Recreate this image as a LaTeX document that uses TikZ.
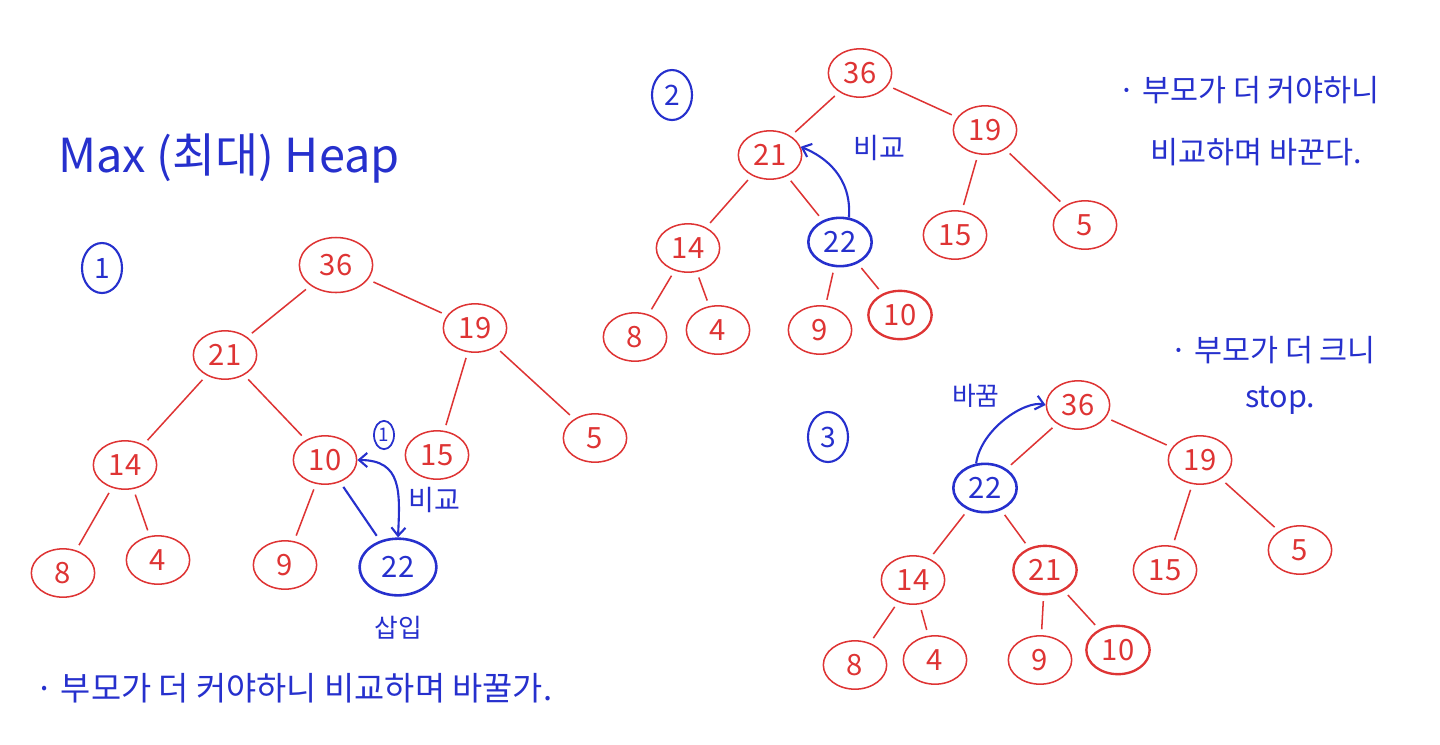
\documentclass[tikz,border=0pt]{standalone}
\usepackage{fontspec}
\setmainfont{Noto Sans CJK KR}
\usetikzlibrary{arrows.meta, shapes.geometric}
\definecolor{penred}{RGB}{222,52,52}
\definecolor{penblue}{RGB}{38,48,205}
\tikzset{
  heapnode/.style={ellipse, draw=penred, text=penred, line width=1.3pt,
                   minimum width=1.9cm, minimum height=1.45cm, inner sep=0pt,
                   font=\fontsize{25}{28}\selectfont},
  newnode/.style={heapnode, draw=penblue, text=penblue, line width=2.2pt},
  link/.style={draw=penred, line width=1.3pt, shorten <=5pt, shorten >=5pt},
  bluelink/.style={link, draw=penblue, line width=1.8pt},
  swaparrow/.style={draw=penblue, line width=1.8pt, >={Straight Barb[length=7pt,width=12pt]}},
  note/.style={text=penblue, font=\fontsize{26}{30}\selectfont, anchor=west, inner sep=0pt},
  stepmark/.style={ellipse, draw=penblue, text=penblue, line width=1.8pt, minimum width=1.2cm,
                   minimum height=1.5cm, inner sep=0pt, font=\fontsize{24}{28}\selectfont}
}
\begin{document}
\begin{tikzpicture}[x=0.03cm, y=-0.03cm]
\useasboundingbox (0,0) rectangle (1440,744);

% title
\node[note, font=\fontsize{40}{46}\selectfont] (title) at (58,158) {Max (최대) Heap};

% step 1: insert 22 below 10
\node[stepmark] (stepa) at (102,268) {1};
\node[heapnode, minimum width=2.2cm, minimum height=1.65cm] (a36) at (336,265) {36};
\node[heapnode] (a21) at (225,355) {21};
\node[heapnode] (a19) at (475,328) {19};
\node[heapnode] (a14) at (125,465) {14};
\node[heapnode] (a10) at (325,460) {10};
\node[heapnode] (a15) at (437,455) {15};
\node[heapnode] (a5) at (595,438) {5};
\node[heapnode] (a8) at (63,573) {8};
\node[heapnode] (a4) at (158,560) {4};
\node[heapnode] (a9) at (285,565) {9};
\node[newnode, minimum width=2.3cm, minimum height=1.7cm] (a22) at (398,567) {22};
\foreach \p/\c in {36/21, 36/19, 21/14, 21/10, 19/15, 19/5, 14/8, 14/4, 10/9}
  \draw[link] (a\p) -- (a\c);
\draw[bluelink] (a10) -- (a22);
\draw[swaparrow, <->] (a10.east) .. controls +(45,0) and +(2,-45) .. (a22.north);
\node[ellipse, draw=penblue, text=penblue, line width=1.5pt, minimum width=0.6cm,
      minimum height=0.85cm, inner sep=0pt, font=\fontsize{16}{18}\selectfont] (marka) at (384,435) {1};
\node[note, font=\fontsize{24}{28}\selectfont] (cmpa) at (408,500) {비교};
\node[note, anchor=center, font=\fontsize{22}{26}\selectfont] (insa) at (398,628) {삽입};
\node[note, font=\fontsize{28}{32}\selectfont] (notea) at (35,688) {· 부모가 더 커야하니 비교하며 바꿀가.};

% step 2: 22 swapped with 10, compare with 21
\node[stepmark] (stepb) at (672,95) {2};
\node[heapnode] (b36) at (860,73) {36};
\node[heapnode] (b21) at (770,155) {21};
\node[heapnode] (b19) at (985,130) {19};
\node[heapnode] (b14) at (688,248) {14};
\node[newnode] (b22) at (840,242) {22};
\node[heapnode] (b15) at (955,235) {15};
\node[heapnode] (b5) at (1085,225) {5};
\node[heapnode] (b8) at (635,337) {8};
\node[heapnode] (b4) at (718,330) {4};
\node[heapnode] (b9) at (820,330) {9};
\node[heapnode, line width=2pt] (b10) at (900,315) {10};
\foreach \p/\c in {36/21, 36/19, 21/14, 21/22, 19/15, 19/5, 14/8, 14/4, 22/9, 22/10}
  \draw[link] (b\p) -- (b\c);
\draw[swaparrow, ->] (b22.70) .. controls +(3,-40) and +(25,10) .. (b21.15);
\node[note, font=\fontsize{24}{28}\selectfont] (cmpb) at (853,148) {비교};
\node[note] (noteb1) at (1118,90) {· 부모가 더 커야하니};
\node[note] (noteb2) at (1150,152) {비교하며 바꾼다.};

% step 3: 22 swapped with 21, parent is larger
\node[stepmark] (stepc) at (828,437) {3};
\node[heapnode] (c36) at (1078,405) {36};
\node[newnode] (c22) at (985,488) {22};
\node[heapnode] (c19) at (1200,460) {19};
\node[heapnode] (c14) at (913,580) {14};
\node[heapnode, line width=2pt] (c21) at (1045,570) {21};
\node[heapnode] (c15) at (1165,570) {15};
\node[heapnode] (c5) at (1300,550) {5};
\node[heapnode] (c8) at (855,665) {8};
\node[heapnode] (c4) at (935,660) {4};
\node[heapnode] (c9) at (1040,660) {9};
\node[heapnode, line width=2pt] (c10) at (1118,650) {10};
\foreach \p/\c in {36/22, 36/19, 22/14, 22/21, 19/15, 19/5, 14/8, 14/4, 21/9, 21/10}
  \draw[link] (c\p) -- (c\c);
\draw[swaparrow, ->] (c22.110) .. controls +(5,-35) and +(-20,-5) .. (c36.west);
\node[note, font=\fontsize{22}{26}\selectfont] (swapc) at (952,396) {바꿈};
\node[note] (notec1) at (1170,350) {· 부모가 더 크니};
\node[note] (notec2) at (1245,400) {stop.};
\end{tikzpicture}
\end{document}
